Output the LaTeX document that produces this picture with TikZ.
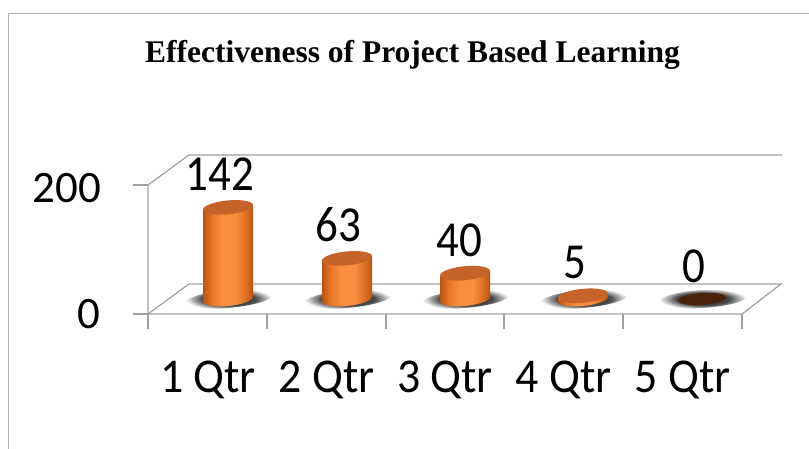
\documentclass[tikz,border=0pt]{standalone}
\usepackage{fontspec}
\setmainfont{Liberation Serif}
\newfontfamily\calib{Carlito}
\usepackage{graphicx}
\usepackage{tikz}
\usetikzlibrary{positioning}
\usepackage{xcolor}
\definecolor{framegray}{HTML}{B0B0B0}
\definecolor{axisgray}{HTML}{A0A0A0}
\definecolor{barD}{HTML}{BA5410}
\definecolor{barM}{HTML}{E9772A}
\definecolor{barL}{HTML}{FA8E40}
\definecolor{barR}{HTML}{D4671E}
\definecolor{bartop}{HTML}{C6632A}
\definecolor{zerotop}{HTML}{4B220A}
\pgfdeclarehorizontalshading{barbody}{100bp}{color(0bp)=(barD); color(25bp)=(barD); color(34bp)=(barM); color(44bp)=(barL); color(58bp)=(barL); color(70bp)=(barR); color(75bp)=(barD); color(100bp)=(barD)}
\pgfdeclareradialshading{floorshadow}{\pgfpoint{0bp}{0bp}}{color(0bp)=(black!80); color(15bp)=(black!72); color(25bp)=(white); color(50bp)=(white)}

\begin{document}
\begin{tikzpicture}[x=1pt, y=1pt,
  grid/.style={axisgray, line width=1.2pt},
  num/.style={font=\calib\fontsize{45}{50}\selectfont, inner sep=0pt},
  cat/.style={font=\calib\fontsize{45}{50}\selectfont, inner sep=0pt, anchor=base}]
  \useasboundingbox (0,0) rectangle (809,448);
  \clip (0,0) rectangle (809,448);
  \draw [framegray, line width=1.2pt] (8.5,-30) rectangle (850,434.5);

  % title
  \node [anchor=base, font=\bfseries\fontsize{31.5}{36}\selectfont] (title) at (412.5,385) {Effectiveness of Project Based Learning};

  % walls and floor
  \draw [grid] (148,119) -- (148,263) -- (189,293) -- (782,293);
  \draw [grid, fill=white] (148,134) -- (742,134) -- (781,164) -- (189,164) -- cycle;
  \draw [grid] (133,263) -- (148,263);
  \draw [grid] (133,134) -- (148,134);
  \draw [grid] (148,134) -- (148,119);
  \draw [grid] (267,134) -- (267,119);
  \draw [grid] (386,134) -- (386,119);
  \draw [grid] (504,134) -- (504,119);
  \draw [grid] (623,134) -- (623,119);
  \draw [grid] (742,134) -- (742,119);

  % bars: x, height
  \foreach \bx/\bh/\n in {228/91.6/1, 347/40.6/2, 465/25.8/3, 583/3.2/4}{
    \begin{scope}[shift={(\bx,149)}, yslant=0.09]
      \shade [shading=floorshadow] (1,0) ellipse (44 and 9);
      \shade [shading=barbody] (-25,0) -- (-25,\bh) -- (25,\bh) -- (25,0) arc (0:-180:25 and 7) -- cycle;
      \fill [bartop] (0,\bh) ellipse (25 and 7);
      \coordinate (top\n) at (0,\bh);
    \end{scope}
  }
  \begin{scope}[shift={(702,149)}, yslant=0.06]
    \shade [shading=floorshadow] (1,0) ellipse (44 and 9);
    \fill [zerotop] (0,0) ellipse (24 and 6);
    \coordinate (top5) at (0,0);
  \end{scope}

  % values
  \node [num, anchor=base] (val1) at ([shift={(-8,17)}]top1) {\scalebox{1}[1.12]{142}};
  \node [num, anchor=base] (val2) at ([shift={(-9,17)}]top2) {\scalebox{1}[1.12]{63}};
  \node [num, anchor=base] (val3) at ([shift={(-6,17)}]top3) {\scalebox{1}[1.12]{40}};
  \node [num, anchor=base] (val4) at ([shift={(-8,17)}]top4) {\scalebox{1}[1.12]{5}};
  \node [num, anchor=base] (val5) at ([shift={(-8,17)}]top5) {\scalebox{1}[1.12]{0}};

  % axis
  \node [num, anchor=east] (ymax) at (101,260) {200};
  \node [num, anchor=east] (ymin) at (101,134) {0};

  % categories
  \node [cat] (cat1) at (208,56) {\scalebox{1.02}[1.08]{1 Qtr}};
  \node [cat] (cat2) at (326.5,56) {\scalebox{1.02}[1.08]{2 Qtr}};
  \node [cat] (cat3) at (445,56) {\scalebox{1.02}[1.08]{3 Qtr}};
  \node [cat] (cat4) at (563.5,56) {\scalebox{1.02}[1.08]{4 Qtr}};
  \node [cat] (cat5) at (682.5,56) {\scalebox{1.02}[1.08]{5 Qtr}};
\end{tikzpicture}
\end{document}
